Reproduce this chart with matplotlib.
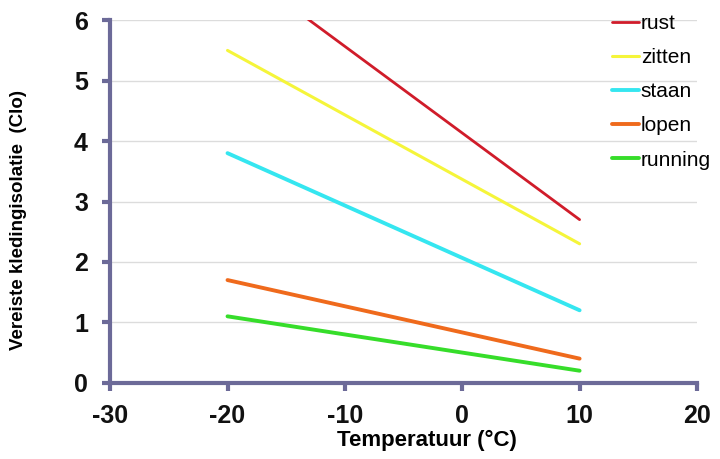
import matplotlib
matplotlib.use("Agg")
import matplotlib.pyplot as plt

temps = [-20, 10]
rust = [7.0, 2.7]
zitten = [5.5, 2.3]
staan = [3.8, 1.2]
lopen = [1.7, 0.4]
running = [1.1, 0.2]

series = [("rust", rust, "#d01c2a", 2.0),
          ("zitten", zitten, "#f5f53a", 2.2),
          ("staan", staan, "#35e6f0", 2.8),
          ("lopen", lopen, "#ef6a1c", 2.8),
          ("running", running, "#36dd2a", 2.8)]

plt.rcParams['font.family'] = ['Liberation Sans', 'DejaVu Sans']
plt.rcParams['axes.unicode_minus'] = False
fig = plt.figure(figsize=(7.2, 4.59), dpi=100)
ax = fig.add_axes([0.153, 0.166, 0.815, 0.79])

axis_col = "#6c6a98"
for name, vals, col, lw in series:
    ax.plot(temps, vals, color=col, lw=lw, label=name, solid_capstyle='round')

ax.set_xlim(-30, 20)
ax.set_ylim(0, 6)
ax.set_xticks([-30, -20, -10, 0, 10, 20])
ax.set_yticks([0, 1, 2, 3, 4, 5, 6])
ax.grid(axis='y', color='#dcdcdc', lw=1)
ax.set_axisbelow(True)
for s in ['top', 'right']:
    ax.spines[s].set_visible(False)
for s in ['left', 'bottom']:
    ax.spines[s].set_color(axis_col)
    ax.spines[s].set_linewidth(3)
ax.tick_params(axis='both', colors=axis_col, width=3, length=6, labelcolor='#111111',
               labelsize=18)
ax.tick_params(axis='y', pad=10)
ax.tick_params(axis='x', pad=9)
for lab in ax.get_xticklabels() + ax.get_yticklabels():
    lab.set_fontweight('bold')
ax.set_xlabel("Temperatuur (°C)", fontsize=16, fontweight='bold', va='center')
ax.xaxis.set_label_coords(0.54, -0.16)
ax.set_ylabel("Vereiste kledingisolatie  (Clo)", fontsize=13.5, fontweight='bold', va='center')
ax.yaxis.set_label_coords(-0.157, 0.449)

leg = fig.legend(loc='upper left', bbox_to_anchor=(0.838, 0.988), frameon=False,
                 fontsize=15, handlelength=1.3, handletextpad=0.1, labelspacing=0.73,
                 borderaxespad=0)

fig.savefig("out.png", dpi=100)
